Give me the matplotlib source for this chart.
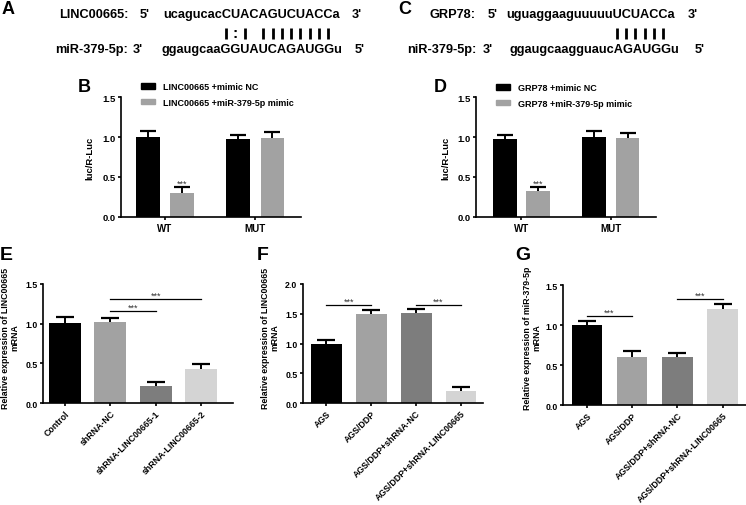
import numpy as np
import matplotlib
matplotlib.use('Agg')
import matplotlib.pyplot as plt
from matplotlib.patches import Rectangle
from matplotlib.lines import Line2D
from matplotlib.font_manager import FontProperties

plt.rcParams['font.family'] = ['Liberation Sans', 'DejaVu Sans']
plt.rcParams['font.weight'] = 'bold'
plt.rcParams['axes.linewidth'] = 1.2

W, H = 746, 506

# ---------------- data ----------------
a_top_name, a_top_seq = 'LINC00665:', 'ucagucacCUACAGUCUACCa'
a_bot_name, a_bot_seq = 'miR-379-5p:', 'ggaugcaaGGUAUCAGAUGGu'
a_pairs = '        I:I IIIIIIII '
c_top_name, c_top_seq = 'GRP78:', 'uguaggaaguuuuuUCUACCa'
c_bot_name, c_bot_seq = 'niR-379-5p:', 'ggaugcaagguaucAGAUGGu'
c_pairs = '              IIIIII '

luc_groups = ['WT', 'MUT']
b_labels = ['LINC00665 +mimic NC', 'LINC00665 +miR-379-5p mimic']
b_nc = [1.00, 0.97]
b_nc_err = [0.08, 0.05]
b_mimic = [0.30, 0.99]
b_mimic_err = [0.08, 0.07]

d_labels = ['GRP78 +mimic NC', 'GRP78 +miR-379-5p mimic']
d_nc = [0.98, 1.00]
d_nc_err = [0.05, 0.08]
d_mimic = [0.33, 0.99]
d_mimic_err = [0.05, 0.06]

e_cats = ['Control', 'shRNA-NC', 'shRNA-LINC00665-1', 'shRNA-LINC00665-2']
e_vals = [1.01, 1.02, 0.21, 0.43]
e_err = [0.07, 0.055, 0.06, 0.065]
e_sig = [(1, 2, 1.16), (1, 3, 1.31)]

f_cats = ['AGS', 'AGS/DDP', 'AGS/DDP+shRNA-NC', 'AGS/DDP+shRNA-LINC00665']
f_vals = [1.00, 1.50, 1.52, 0.20]
f_err = [0.065, 0.055, 0.065, 0.065]
f_sig = [(0, 1, 1.65), (2, 3, 1.65)]

g_cats = ['AGS', 'AGS/DDP', 'AGS/DDP+shRNA-NC', 'AGS/DDP+shRNA-LINC00665']
g_vals = [1.00, 0.60, 0.60, 1.195]
g_err = [0.055, 0.07, 0.05, 0.067]
g_sig = [(0, 1, 1.11), (2, 3, 1.33)]

bar_colors4 = ['#000000', '#a2a2a2', '#7d7d7d', '#d4d4d4']
pair_colors = ['#000000', '#a2a2a2']

# ---------------- figure ----------------
fig = plt.figure(figsize=(W / 100, H / 100), dpi=100)


def fx(x):
    return x / W


def fy(y):
    return 1 - y / H


def add_ax(l, t, r, b):
    return fig.add_axes([l / W, 1 - b / H, (r - l) / W, (b - t) / H])


def style(ax, ymax, step, lsize):
    ax.spines['top'].set_visible(False)
    ax.spines['right'].set_visible(False)
    ax.set_ylim(0, ymax)
    ax.set_yticks(np.arange(0, ymax + 1e-9, step))
    ax.yaxis.set_major_formatter(matplotlib.ticker.FormatStrFormatter('%.1f'))
    ax.tick_params(direction='out', length=2.5, width=1.2, labelsize=lsize, pad=1.5)
    for t in ax.get_yticklabels() + ax.get_xticklabels():
        t.set_fontweight('bold')


def upper_err(ax, x, v, e, cap):
    ax.errorbar(x, v, yerr=e, fmt='none', ecolor='black', elinewidth=1.4,
                capsize=cap, capthick=1.6, zorder=1)


def sig(ax, i, j, y):
    ax.plot([i, j], [y, y], color='black', lw=0.9, zorder=3)
    ax.annotate('***', xy=((i + j) / 2, y), xytext=(0, 0.8), textcoords='offset points',
                ha='center', va='baseline', fontsize=6.5, fontweight='normal', color='#333333')


fp_seq = FontProperties(family='Liberation Sans', weight='bold', size=9.2)
renderer = fig.canvas.get_renderer()


def tw(s):
    if not s:
        return 0.0
    w, h, d = renderer.get_text_width_height_descent(s.replace(' ', '\u00a0'), fp_seq, ismath=False)
    return w


def seq_block(label, lx, ly, top_name, top_seq, bot_name, bot_seq, pairs,
              name_r1, p5x, seq1x, p3x, name_r2, p3bx, seq2x, p5bx):
    fig.text(fx(lx), fy(ly), label, fontsize=13, fontweight='bold', ha='center', va='center')
    y1, y2, y3 = 15, 34, 50
    fig.text(fx(name_r1), fy(y1), top_name, fontproperties=fp_seq, ha='right', va='center')
    fig.text(fx(p5x), fy(y1), "5'", fontproperties=fp_seq, ha='left', va='center')
    fig.text(fx(seq1x), fy(y1), top_seq, fontproperties=fp_seq, ha='left', va='center')
    fig.text(fx(p3x), fy(y1), "3'", fontproperties=fp_seq, ha='left', va='center')
    fig.text(fx(name_r2), fy(y3), bot_name, fontproperties=fp_seq, ha='right', va='center')
    fig.text(fx(p3bx), fy(y3), "3'", fontproperties=fp_seq, ha='left', va='center')
    fig.text(fx(seq2x), fy(y3), bot_seq, fontproperties=fp_seq, ha='left', va='center')
    fig.text(fx(p5bx), fy(y3), "5'", fontproperties=fp_seq, ha='left', va='center')
    for i, ch in enumerate(pairs):
        if ch == ' ':
            continue
        cx = seq1x + (tw(top_seq[:i]) + tw(top_seq[:i + 1])) / 2
        if ch == 'I':
            fig.add_artist(Line2D([fx(cx), fx(cx)], [fy(y2 - 5.5), fy(y2 + 5.5)],
                                  color='black', lw=2.0, solid_capstyle='butt'))
        else:
            fig.text(fx(cx), fy(y2), ch, fontproperties=fp_seq, ha='center', va='center',
                     fontsize=11)


seq_block('A', 8, 10, a_top_name, a_top_seq, a_bot_name, a_bot_seq, a_pairs,
          128, 140, 163, 352, 128, 133, 162, 355)
seq_block('C', 405, 9, c_top_name, c_top_seq, c_bot_name, c_bot_seq, c_pairs,
          476, 488, 506, 688, 476, 483, 510, 695)


# ---------------- luciferase panels ----------------
def luc_panel(box, letter, lpos, legpos, labels, nc, nce, mm, mme, xlim, off, width, ylab_x):
    ax = add_ax(*box)
    x = np.arange(len(luc_groups))
    ax.bar(x - off, nc, width, color=pair_colors[0], zorder=2)
    ax.bar(x + off, mm, width, color=pair_colors[1], zorder=2)
    upper_err(ax, x - off, nc, nce, 5.5)
    upper_err(ax, x + off, mm, mme, 5.5)
    style(ax, 1.5, 0.5, 6.8)
    ax.set_xlim(*xlim)
    ax.set_xticks(x)
    ax.set_xticklabels(luc_groups, fontweight='bold', fontsize=7)
    for i in range(len(luc_groups)):
        if mm[i] < 0.5:
            ax.annotate('***', xy=(x[i] + off, mm[i] + mme[i]), xytext=(0, 0.6),
                        textcoords='offset points', ha='center', va='baseline',
                        fontsize=6.5, fontweight='normal', color='#333333')
    fig.text(fx(ylab_x), fy((box[1] + box[3]) / 2), 'luc/R-Luc', rotation=90,
             fontsize=6.8, fontweight='bold', ha='center', va='center')
    fig.text(fx(lpos[0]), fy(lpos[1]), letter, fontsize=13, fontweight='bold',
             ha='center', va='center')
    handles = [Rectangle((0, 0), 1, 1, color=c) for c in pair_colors]
    fig.legend(handles, labels, loc='upper left', bbox_to_anchor=(fx(legpos[0]), fy(legpos[1])),
               frameon=False, prop={'weight': 'bold', 'size': 6.5},
               handlelength=1.6, handleheight=0.55, handletextpad=0.8,
               labelspacing=0.75, borderpad=0, borderaxespad=0)
    return ax


luc_panel((121, 98, 301, 218), 'B', (84, 88), (141, 83), b_labels,
          b_nc, b_nc_err, b_mimic, b_mimic_err, (-0.486, 1.503), 0.188, 0.265, 90)
luc_panel((476, 98, 656, 218), 'D', (440, 88), (496, 84), d_labels,
          d_nc, d_nc_err, d_mimic, d_mimic_err, (-0.508, 1.503), 0.187, 0.263, 446)


# ---------------- expression panels ----------------
def expr_panel(box, letter, lpos, cats, vals, errs, sigs, ymax, xlim, width, ylab, ylab_x):
    ax = add_ax(*box)
    x = np.arange(len(cats))
    ax.bar(x, vals, width, color=bar_colors4, zorder=2)
    upper_err(ax, x, vals, errs, 6.2)
    style(ax, ymax, 0.5, 6.3)
    ax.set_xlim(*xlim)
    ax.set_xticks(x)
    ax.set_xticklabels(cats, rotation=45, ha='right', va='top', rotation_mode='anchor',
                       fontsize=6.3, fontweight='bold')
    for i, j, y in sigs:
        sig(ax, i, j, y)
    fig.text(fx(ylab_x), fy(338), ylab, rotation=90, fontsize=6.3, fontweight='bold',
             ha='center', va='center', multialignment='center', linespacing=1.1)
    fig.text(fx(lpos[0]), fy(lpos[1]), letter, fontsize=14, fontweight='bold',
             ha='center', va='center')
    return ax


expr_panel((43, 285, 233, 404), 'E', (6, 256), e_cats, e_vals, e_err, e_sig, 1.5,
           (-0.49, 3.71), 0.71, 'Relative expression of LINC00665\nmRNA', 10)
expr_panel((303, 285, 483, 404), 'F', (263, 256), f_cats, f_vals, f_err, f_sig, 2.0,
           (-0.52, 3.49), 0.69, 'Relative expression of LINC00665\nmRNA', 270)
expr_panel((563, 286, 746, 406), 'G', (523, 256), g_cats, g_vals, g_err, g_sig, 1.5,
           (-0.53, 3.52), 0.68, 'Relative expression of miR-379-5p\nmRNA', 532)

fig.savefig('out.png', dpi=100)
